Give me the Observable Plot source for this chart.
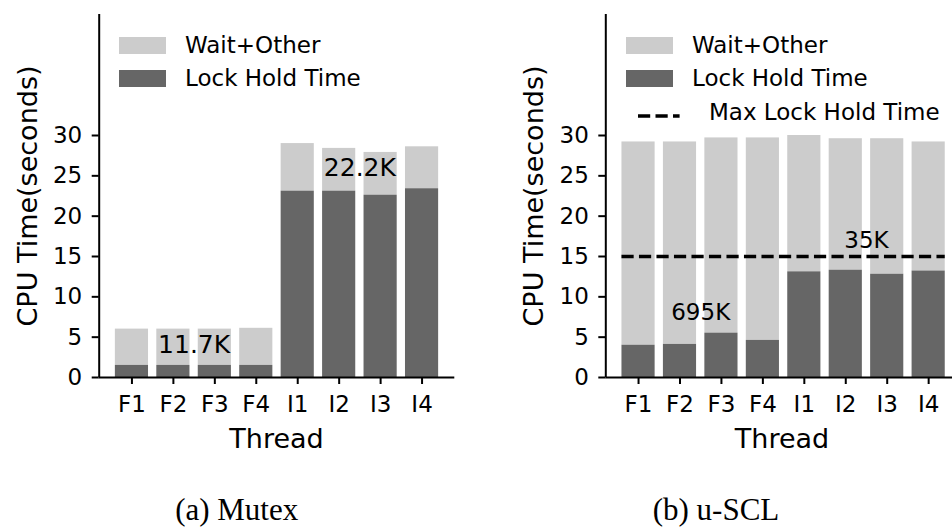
<!DOCTYPE html>
<html>
<head>
<meta charset="utf-8">
<script src="https://cdn.jsdelivr.net/npm/d3@7"></script>
<script src="https://cdn.jsdelivr.net/npm/@observablehq/plot@0.6"></script>
<style>
  html, body { margin: 0; padding: 0; background: #fff; overflow: hidden; }
  #fig { position: relative; width: 952px; height: 529px; overflow: hidden;
         font-family: "DejaVu Sans", sans-serif; color: #000; }
  .panel { position: absolute; top: 0; }
  .panel g[aria-label$="tick label"],
  .panel g[aria-label$="tick label"] text { font-size: 23px !important; font-family: "DejaVu Sans", sans-serif; }
  .txt { position: absolute; white-space: nowrap; line-height: 1; }
  .axlabel { font-size: 27px; transform: translate(-50%, -50%); }
  .ylabel { font-size: 27px; transform: translate(-50%, -50%) rotate(-90deg); }
  .legtext { font-size: 23px; transform: translateY(-50%); }
  .patch { position: absolute; width: 47px; height: 17px; }
  .dash { position: absolute; }
  .caption { font-family: "Liberation Serif", "DejaVu Serif", serif; font-size: 31px;
             transform: translate(-50%, 0); }
</style>
</head>
<body>
<div id="fig"></div>
<script>
// Threads on the x axis
const threads = ["F1", "F2", "F3", "F4", "I1", "I2", "I3", "I4"];

// (a) Mutex: lock hold time and total CPU time per thread (seconds)
const mutexLock  = [1.5, 1.5, 1.5, 1.5, 23.1, 23.1, 22.6, 23.4];
const mutexTotal = [6.0, 6.0, 6.0, 6.1, 29.0, 28.4, 27.9, 28.6];

// (b) u-SCL: lock hold time and total CPU time per thread (seconds)
const usclLock  = [4.0, 4.1, 5.5, 4.6, 13.1, 13.3, 12.8, 13.2];
const usclTotal = [29.2, 29.2, 29.7, 29.7, 30.0, 29.6, 29.6, 29.2];
const usclMaxLockHold = 15;

// Lock acquisition counts written over each thread group
const mutexNotes = ["11.7K", "22.2K"];
const mutexNoteY = [4.0, 26.0];
const usclNotes  = ["695K", "35K"];
const usclNoteY  = [8.0, 17.0];
const noteSlot   = [1.5, 5.5];   // between the 2nd/3rd bar of each group

const yTicks = [0, 5, 10, 15, 20, 25, 30];

const LIGHT = "#cccccc", DARK = "#666666";
const DASH = "12.2,5.3";

function panel({lock, total, notes, noteY, noteSize, maxLine, width, marginLeft, marginRight}) {
  const rows = threads.map((t, i) => ({i, t, lock: lock[i], total: total[i]}));
  const noteRows = notes.map((s, k) => ({label: s, x: noteSlot[k], y: noteY[k]}));
  const marks = [
    Plot.rectY(rows, {x1: d => d.i - 0.4, x2: d => d.i + 0.4, y1: "lock", y2: "total", fill: LIGHT}),
    Plot.rectY(rows, {x1: d => d.i - 0.4, x2: d => d.i + 0.4, y1: 0, y2: "lock", fill: DARK}),
  ];
  if (maxLine != null) {
    marks.push(Plot.ruleY([maxLine], {x1: -0.4, x2: 7.4, stroke: "#000", strokeWidth: 3.3,
      strokeDasharray: DASH}));
  }
  marks.push(
    Plot.text(noteRows, {x: "x", y: "y", text: "label", fontSize: noteSize, fill: "#000"}),
    Plot.axisY({ticks: yTicks, tickSize: 7, tickPadding: 10, strokeWidth: 2, label: null,
      fontSize: 23}),
    Plot.axisX({ticks: d3.range(threads.length), tickFormat: i => threads[i], tickSize: 7,
      tickPadding: 11, strokeWidth: 2, label: null, fontSize: 23}),
    Plot.ruleX([-0.79], {stroke: "#000", strokeWidth: 2}),
    Plot.ruleY([0], {stroke: "#000", strokeWidth: 2})
  );
  return Plot.plot({
    width, height: 460,
    marginLeft, marginRight, marginTop: 14, marginBottom: 83,
    style: {fontFamily: "DejaVu Sans, sans-serif", fontSize: "23px", color: "#000", background: "transparent", overflow: "visible"},
    x: {type: "linear", domain: [-0.79, 7.79]},
    y: {domain: [0, 45]},
    marks
  });
}

const fig = document.getElementById("fig");

function place(el, left) {
  el.classList.add("panel");
  el.style.left = left + "px";
  fig.appendChild(el);
}

place(panel({lock: mutexLock, total: mutexTotal, notes: mutexNotes, noteY: mutexNoteY,
  noteSize: 25, maxLine: null, width: 476, marginLeft: 98.7, marginRight: 21.7}), 0);
place(panel({lock: usclLock, total: usclTotal, notes: usclNotes, noteY: usclNoteY,
  noteSize: 23, maxLine: usclMaxLockHold, width: 510, marginLeft: 129.3, marginRight: 25.1}), 476);

function addText(cls, text, left, top) {
  const d = document.createElement("div");
  d.className = "txt " + cls;
  d.textContent = text;
  d.style.left = left + "px";
  d.style.top = top + "px";
  fig.appendChild(d);
}
function addPatch(color, left, top) {
  const d = document.createElement("div");
  d.className = "patch";
  d.style.background = color;
  d.style.left = left + "px";
  d.style.top = top + "px";
  fig.appendChild(d);
}

// Axis titles
addText("ylabel", "CPU Time(seconds)", 27, 196);
addText("ylabel", "CPU Time(seconds)", 533, 196);
addText("axlabel", "Thread", 276.5, 438);
addText("axlabel", "Thread", 782, 438);

// Legends
addPatch(LIGHT, 119, 37);  addText("legtext", "Wait+Other", 185, 45);
addPatch(DARK, 119, 70);   addText("legtext", "Lock Hold Time", 185, 78);
addPatch(LIGHT, 626, 37);  addText("legtext", "Wait+Other", 692, 45);
addPatch(DARK, 626, 70);   addText("legtext", "Lock Hold Time", 692, 78);

// Dashed legend key, same stroke as the max-hold rule
const ns = "http://www.w3.org/2000/svg";
const key = document.createElementNS(ns, "svg");
key.setAttribute("class", "dash");
key.setAttribute("width", 44);
key.setAttribute("height", 8);
key.style.left = "637px"; key.style.top = "112px";
const ln = document.createElementNS(ns, "line");
ln.setAttribute("x1", 1); ln.setAttribute("x2", 42.6);
ln.setAttribute("y1", 4); ln.setAttribute("y2", 4);
ln.setAttribute("stroke", "#000");
ln.setAttribute("stroke-width", 3.3);
ln.setAttribute("stroke-dasharray", DASH);
key.appendChild(ln);
fig.appendChild(key);
addText("legtext", "Max Lock Hold Time", 709, 112);

// Sub-figure captions
addText("caption", "(a) Mutex", 236.7, 494);
addText("caption", "(b) u-SCL", 716, 494);
</script>
</body>
</html>
